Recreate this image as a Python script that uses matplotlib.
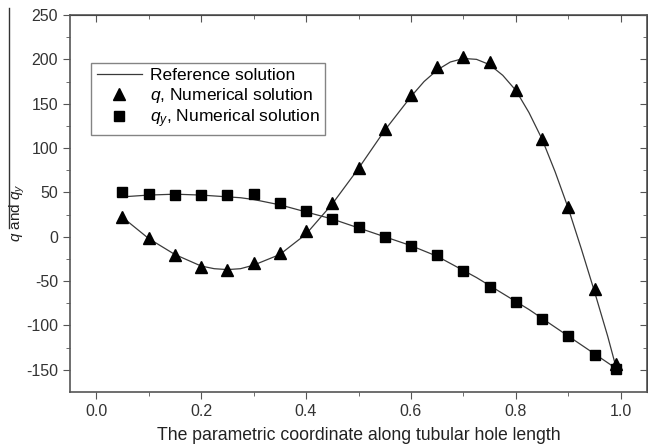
import matplotlib
matplotlib.use("Agg")
import matplotlib.pyplot as plt
from matplotlib.lines import Line2D

# numerical solution, sampled points
x_num = [0.05, 0.10, 0.15, 0.20, 0.25, 0.30, 0.35, 0.40, 0.45, 0.50,
         0.55, 0.60, 0.65, 0.70, 0.75, 0.80, 0.85, 0.90, 0.95, 0.99]
q_num = [22, -1, -21, -34, -38, -30, -18, 6, 38, 78,
         121, 160, 191, 203, 197, 165, 110, 34, -59, -143]
qy_num = [50, 48, 47.5, 47, 47, 48, 38, 29, 20, 10.5,
          0, -10, -20, -39, -56.5, -74, -93, -112, -133, -149]

# reference solution
x_ref = [0.05, 0.10, 0.15, 0.20, 0.225, 0.25, 0.275, 0.30, 0.35, 0.40,
         0.45, 0.50, 0.55, 0.60, 0.625, 0.65, 0.675, 0.70, 0.725, 0.75,
         0.775, 0.80, 0.825, 0.85, 0.875, 0.90, 0.925, 0.95, 0.975, 0.99]
q_ref = [22, -2, -20, -33, -36, -37, -36, -32, -20, 3,
         37, 77, 120, 158, 175, 188, 197, 201, 200, 194,
         182, 165, 140, 110, 73, 32, -14, -62, -112, -145]
qy_ref = [45, 47, 48, 47, 46, 45, 44, 42, 36, 28,
          20, 10, 0, -10, -16, -22, -30, -38, -46, -55,
          -64, -73, -82, -92, -102, -112, -122, -132, -142, -148]

x_ticks = [0.0, 0.2, 0.4, 0.6, 0.8, 1.0]
x_minor = [0.1, 0.3, 0.5, 0.7, 0.9]
y_ticks = [-150, -100, -50, 0, 50, 100, 150, 200, 250]
y_minor = [-125, -75, -25, 25, 75, 125, 175, 225]

plt.rcParams["font.family"] = ["Liberation Sans", "DejaVu Sans"]
plt.rcParams["mathtext.fontset"] = "custom"
plt.rcParams["mathtext.it"] = "Liberation Sans:italic"
plt.rcParams["mathtext.rm"] = "Liberation Sans"
plt.rcParams["axes.unicode_minus"] = False

fig = plt.figure(figsize=(6.48, 4.45), dpi=100)
ax = fig.add_axes([70 / 648, 53 / 445, 577 / 648, 377 / 445])

line_col = "#3a3a3a"
ax.plot(x_ref, q_ref, color=line_col, lw=0.9, label="Reference solution")
ax.plot(x_ref, qy_ref, color=line_col, lw=0.9)
ax.plot(x_num, q_num, ls="none", marker="^", ms=8, color="black",
        label="$q$, Numerical solution")
ax.plot(x_num, qy_num, ls="none", marker="s", ms=6.5, color="black",
        label="$q_y$, Numerical solution")

ax.set_xlim(-0.05, 1.05)
ax.set_ylim(-175, 250)
ax.set_xticks(x_ticks)
ax.set_xticklabels([f"{t:.1f}" for t in x_ticks])
ax.set_yticks(y_ticks)
ax.set_xticks(x_minor, minor=True)
ax.set_yticks(y_minor, minor=True)

for side in ax.spines.values():
    side.set_color("#555555")
    side.set_linewidth(1.2)

ax.tick_params(which="both", direction="out", colors="#555555",
               labelcolor="#333333", labelsize=11.5)
ax.tick_params(which="major", length=5)
ax.tick_params(which="minor", length=3)

# Origin-style ticks on the top and right edges, pointing inwards
top = ax.secondary_xaxis("top")
top.set_xticks(x_ticks)
top.set_xticks(x_minor, minor=True)
right = ax.secondary_yaxis("right")
right.set_yticks(y_ticks)
right.set_yticks(y_minor, minor=True)
for sec in (top, right):
    sec.tick_params(which="both", direction="in", colors="#555555",
                    labelleft=False, labelright=False,
                    labeltop=False, labelbottom=False)
    sec.tick_params(which="major", length=5)
    sec.tick_params(which="minor", length=3)

ax.set_xlabel("The parametric coordinate along tubular hole length",
              fontsize=12.7, color="#222222", labelpad=6)
ax.set_ylabel("$q$ and $q_y$", fontsize=11, color="#222222")
ax.yaxis.set_label_coords(-0.074, 0.475)

# stray overline left of the y label in the original
fig.lines.append(Line2D([9 / 648, 9 / 648], [1 - 8 / 445, 1 - 228 / 445],
                        transform=fig.transFigure, color="#333333", lw=1))

leg = ax.legend(loc="upper left", bbox_to_anchor=(0.022, 0.896),
                fontsize=12.5, frameon=True, fancybox=False,
                borderpad=0.3, labelspacing=0.15, handlelength=2.6,
                handletextpad=0.5)
leg.get_frame().set_edgecolor("#666666")
leg.get_frame().set_linewidth(1.0)

fig.savefig("out.png", dpi=100)
